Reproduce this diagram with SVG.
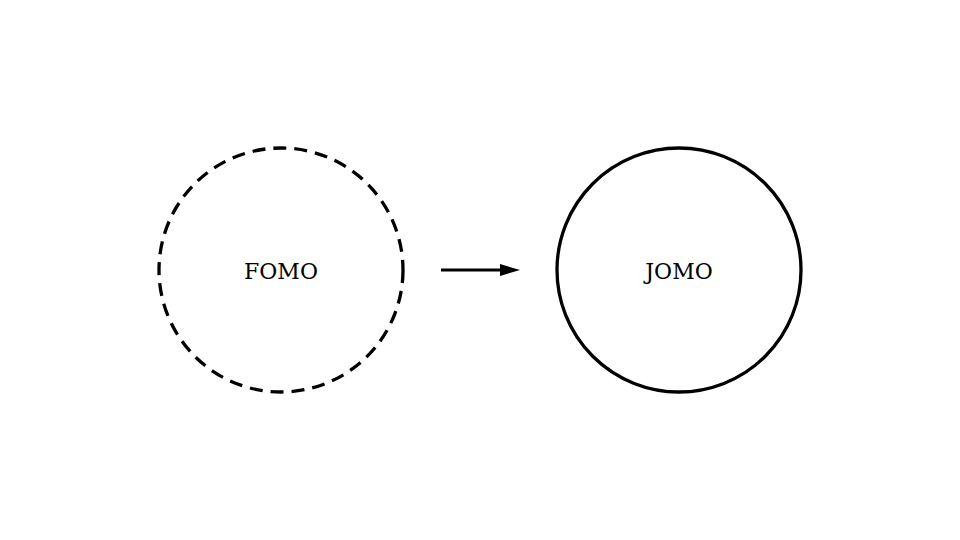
<svg xmlns="http://www.w3.org/2000/svg" width="960" height="540" viewBox="0 0 960 540">
<style>
.n{fill:none;stroke:#000;stroke-width:3.3}
.d{stroke-dasharray:13 8}
.t{font-family:"DejaVu Serif","Liberation Serif",serif;font-size:22px;fill:#000;text-anchor:middle}
</style>
<defs><marker id="a" markerWidth="20" markerHeight="12" refX="0" refY="6" orient="auto" markerUnits="userSpaceOnUse"><path d="M0,0L20,6L0,12Z" fill="#000"/></marker></defs>
<rect width="960" height="540" fill="#fff"/>
<g id="fomo"><circle class="n d" cx="281" cy="270" r="122"/><text class="t" x="281" y="279">FOMO</text></g>
<g id="jomo"><circle class="n" cx="679" cy="270" r="122"/><text class="t" x="679" y="279">JOMO</text></g>
<g id="connectors"><line x1="441" y1="270" x2="500" y2="270" stroke="#000" stroke-width="3" marker-end="url(#a)"/></g>
</svg>
